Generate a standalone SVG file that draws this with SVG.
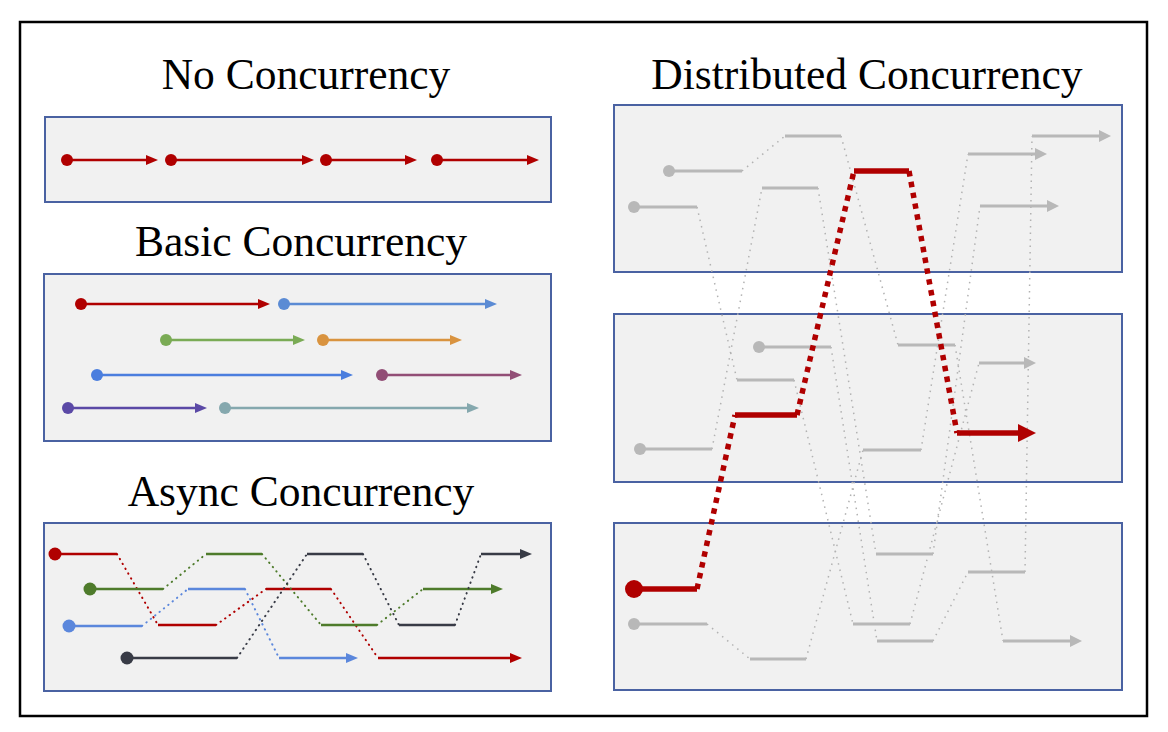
<svg xmlns="http://www.w3.org/2000/svg" width="1168" height="732" viewBox="0 0 1168 732">
<defs>
<style>
.title{font-family:"Liberation Serif","Times New Roman",serif;font-size:43.5px;fill:#000;text-anchor:middle}
.panel{fill:#f1f1f1;stroke:#4a62a2;stroke-width:2}
.ln{fill:none;stroke-width:2.6}
.dt{fill:none;stroke-width:2;stroke-dasharray:0.4 5.2;stroke-linecap:round}
.g{stroke:#b8b8b8;fill:none;stroke-width:3}
.gd{stroke:#b2b2b2;fill:none;stroke-width:1.5;stroke-dasharray:1.5 5}
.rd{stroke:#b00000;fill:none;stroke-width:5.5}
.rdd{stroke:#b00000;fill:none;stroke-width:5.5;stroke-dasharray:5.5 5.5}
</style>
<marker id="a-red" viewBox="0 0 12 10" refX="4" refY="5" markerWidth="12" markerHeight="10" markerUnits="userSpaceOnUse" orient="auto"><path d="M0,0L12,5L0,10z" fill="#b00000"/></marker>
<marker id="a-blue1" viewBox="0 0 12 10" refX="4" refY="5" markerWidth="12" markerHeight="10" markerUnits="userSpaceOnUse" orient="auto"><path d="M0,0L12,5L0,10z" fill="#5b8bd4"/></marker>
<marker id="a-green1" viewBox="0 0 12 10" refX="4" refY="5" markerWidth="12" markerHeight="10" markerUnits="userSpaceOnUse" orient="auto"><path d="M0,0L12,5L0,10z" fill="#7aab55"/></marker>
<marker id="a-orange" viewBox="0 0 12 10" refX="4" refY="5" markerWidth="12" markerHeight="10" markerUnits="userSpaceOnUse" orient="auto"><path d="M0,0L12,5L0,10z" fill="#d9933f"/></marker>
<marker id="a-blue2" viewBox="0 0 12 10" refX="4" refY="5" markerWidth="12" markerHeight="10" markerUnits="userSpaceOnUse" orient="auto"><path d="M0,0L12,5L0,10z" fill="#4b7ede"/></marker>
<marker id="a-maroon" viewBox="0 0 12 10" refX="4" refY="5" markerWidth="12" markerHeight="10" markerUnits="userSpaceOnUse" orient="auto"><path d="M0,0L12,5L0,10z" fill="#924e76"/></marker>
<marker id="a-purple" viewBox="0 0 12 10" refX="4" refY="5" markerWidth="12" markerHeight="10" markerUnits="userSpaceOnUse" orient="auto"><path d="M0,0L12,5L0,10z" fill="#5b49a6"/></marker>
<marker id="a-teal" viewBox="0 0 12 10" refX="4" refY="5" markerWidth="12" markerHeight="10" markerUnits="userSpaceOnUse" orient="auto"><path d="M0,0L12,5L0,10z" fill="#85a8ae"/></marker>
<marker id="a-green2" viewBox="0 0 12 10" refX="4" refY="5" markerWidth="12" markerHeight="10" markerUnits="userSpaceOnUse" orient="auto"><path d="M0,0L12,5L0,10z" fill="#4e7b2b"/></marker>
<marker id="a-blue3" viewBox="0 0 12 10" refX="4" refY="5" markerWidth="12" markerHeight="10" markerUnits="userSpaceOnUse" orient="auto"><path d="M0,0L12,5L0,10z" fill="#5b87dc"/></marker>
<marker id="a-dark" viewBox="0 0 12 10" refX="4" refY="5" markerWidth="12" markerHeight="10" markerUnits="userSpaceOnUse" orient="auto"><path d="M0,0L12,5L0,10z" fill="#383b46"/></marker>
<marker id="a-grey" viewBox="0 0 12 12" refX="4" refY="6" markerWidth="12" markerHeight="12" markerUnits="userSpaceOnUse" orient="auto"><path d="M0,0L12,6L0,12z" fill="#b8b8b8"/></marker>
<marker id="a-bigred" viewBox="0 0 18 18" refX="6" refY="9" markerWidth="18" markerHeight="18" markerUnits="userSpaceOnUse" orient="auto"><path d="M0,0L18,9L0,18z" fill="#b00000"/></marker>
</defs>
<rect width="1168" height="732" fill="#ffffff"/>
<rect id="frame" x="20" y="22" width="1127" height="694" fill="none" stroke="#000" stroke-width="2.5"/>

<g id="titles">
<text class="title" x="306" y="89">No Concurrency</text>
<text class="title" x="301" y="256">Basic Concurrency</text>
<text class="title" x="301" y="506">Async Concurrency</text>
<text class="title" x="867" y="89">Distributed Concurrency</text>
</g>

<g id="no-concurrency">
<rect class="panel" x="45" y="117" width="506" height="85"/>
<g stroke="#b00000" fill="#b00000">
<line class="ln" x1="67" y1="160" x2="150" y2="160" marker-end="url(#a-red)"/>
<line class="ln" x1="171" y1="160" x2="306" y2="160" marker-end="url(#a-red)"/>
<line class="ln" x1="326" y1="160" x2="409" y2="160" marker-end="url(#a-red)"/>
<line class="ln" x1="437" y1="160" x2="531" y2="160" marker-end="url(#a-red)"/>
<circle cx="67" cy="160" r="6" stroke="none"/>
<circle cx="171" cy="160" r="6" stroke="none"/>
<circle cx="326" cy="160" r="6" stroke="none"/>
<circle cx="437" cy="160" r="6" stroke="none"/>
</g>
</g>

<g id="basic-concurrency">
<rect class="panel" x="44" y="274" width="507" height="167"/>
<line class="ln" stroke="#b00000" x1="81" y1="304" x2="262" y2="304" marker-end="url(#a-red)"/><circle cx="81" cy="304" r="6" fill="#b00000"/>
<line class="ln" stroke="#5b8bd4" x1="284" y1="304" x2="489" y2="304" marker-end="url(#a-blue1)"/><circle cx="284" cy="304" r="6" fill="#5b8bd4"/>
<line class="ln" stroke="#7aab55" x1="166" y1="340" x2="297" y2="340" marker-end="url(#a-green1)"/><circle cx="166" cy="340" r="6" fill="#7aab55"/>
<line class="ln" stroke="#d9933f" x1="323" y1="340" x2="454" y2="340" marker-end="url(#a-orange)"/><circle cx="323" cy="340" r="6" fill="#d9933f"/>
<line class="ln" stroke="#4b7ede" x1="97" y1="375" x2="345" y2="375" marker-end="url(#a-blue2)"/><circle cx="97" cy="375" r="6" fill="#4b7ede"/>
<line class="ln" stroke="#924e76" x1="382" y1="375" x2="514" y2="375" marker-end="url(#a-maroon)"/><circle cx="382" cy="375" r="6" fill="#924e76"/>
<line class="ln" stroke="#5b49a6" x1="68" y1="408" x2="199" y2="408" marker-end="url(#a-purple)"/><circle cx="68" cy="408" r="6" fill="#5b49a6"/>
<line class="ln" stroke="#85a8ae" x1="225" y1="408" x2="471" y2="408" marker-end="url(#a-teal)"/><circle cx="225" cy="408" r="6" fill="#85a8ae"/>
</g>

<g id="async-concurrency">
<rect class="panel" x="44" y="523" width="507" height="168"/>
<g id="async-red" stroke="#b00000">
<line class="ln" x1="55" y1="554" x2="117" y2="554"/>
<line class="dt" x1="117" y1="554" x2="158" y2="625"/>
<line class="ln" x1="158" y1="625" x2="216" y2="625"/>
<line class="dt" x1="216" y1="625" x2="266" y2="589"/>
<line class="ln" x1="266" y1="589" x2="331" y2="589"/>
<line class="dt" x1="331" y1="589" x2="378" y2="658"/>
<line class="ln" x1="378" y1="658" x2="514" y2="658" marker-end="url(#a-red)"/>
<circle cx="55" cy="554" r="6.5" fill="#b00000" stroke="none"/>
</g>
<g id="async-green" stroke="#4e7b2b">
<line class="ln" x1="90" y1="589" x2="163" y2="589"/>
<line class="dt" x1="163" y1="589" x2="206" y2="554"/>
<line class="ln" x1="206" y1="554" x2="262" y2="554"/>
<line class="dt" x1="262" y1="554" x2="321" y2="625"/>
<line class="ln" x1="321" y1="625" x2="377" y2="625"/>
<line class="dt" x1="377" y1="625" x2="423" y2="589"/>
<line class="ln" x1="423" y1="589" x2="495" y2="589" marker-end="url(#a-green2)"/>
<circle cx="90" cy="589" r="6.5" fill="#4e7b2b" stroke="none"/>
</g>
<g id="async-blue" stroke="#5b87dc">
<line class="ln" x1="69" y1="626" x2="142" y2="626"/>
<line class="dt" x1="142" y1="626" x2="188" y2="589"/>
<line class="ln" x1="188" y1="589" x2="245" y2="589"/>
<line class="dt" x1="245" y1="589" x2="279" y2="658"/>
<line class="ln" x1="279" y1="658" x2="350" y2="658" marker-end="url(#a-blue3)"/>
<circle cx="69" cy="626" r="6.5" fill="#5b87dc" stroke="none"/>
</g>
<g id="async-dark" stroke="#383b46">
<line class="ln" x1="127" y1="658" x2="237" y2="658"/>
<line class="dt" x1="237" y1="658" x2="307" y2="554"/>
<line class="ln" x1="307" y1="554" x2="363" y2="554"/>
<line class="dt" x1="363" y1="554" x2="399" y2="625"/>
<line class="ln" x1="399" y1="625" x2="455" y2="625"/>
<line class="dt" x1="455" y1="625" x2="481" y2="554"/>
<line class="ln" x1="481" y1="554" x2="524" y2="554" marker-end="url(#a-dark)"/>
<circle cx="127" cy="658" r="6.5" fill="#383b46" stroke="none"/>
</g>
</g>

<g id="distributed-concurrency">
<g id="machine-1"><rect class="panel" x="614" y="105" width="508" height="167"/></g>
<g id="machine-2"><rect class="panel" x="614" y="314" width="508" height="168"/></g>
<g id="machine-3"><rect class="panel" x="614" y="523" width="508" height="167"/></g>
<g id="connectors">
<g id="dist-grey-dotted">
<line class="gd" x1="742" y1="171" x2="785" y2="136"/>
<line class="gd" x1="841" y1="136" x2="898" y2="345"/>
<line class="gd" x1="955" y1="345" x2="1003" y2="641"/>
<line class="gd" x1="697" y1="207" x2="737" y2="380"/>
<line class="gd" x1="794" y1="380" x2="853" y2="624"/>
<line class="gd" x1="910" y1="624" x2="979" y2="363"/>
<line class="gd" x1="831" y1="347" x2="877" y2="641"/>
<line class="gd" x1="933" y1="641" x2="968" y2="572"/>
<line class="gd" x1="1025" y1="572" x2="1032" y2="136"/>
<line class="gd" x1="712" y1="449" x2="762" y2="188"/>
<line class="gd" x1="818" y1="188" x2="876" y2="554"/>
<line class="gd" x1="933" y1="554" x2="980" y2="206"/>
<line class="gd" x1="707" y1="624" x2="750" y2="659"/>
<line class="gd" x1="806" y1="659" x2="863" y2="450"/>
<line class="gd" x1="921" y1="450" x2="968" y2="154"/>
</g>
<g id="dist-grey-solid">
<line class="g" x1="669" y1="171" x2="742" y2="171"/><circle cx="669" cy="171" r="6" fill="#b8b8b8"/>
<line class="g" x1="785" y1="136" x2="841" y2="136"/>
<line class="g" x1="898" y1="345" x2="955" y2="345"/>
<line class="g" x1="1003" y1="641" x2="1074" y2="641" marker-end="url(#a-grey)"/>
<line class="g" x1="634" y1="207" x2="697" y2="207"/><circle cx="634" cy="207" r="6" fill="#b8b8b8"/>
<line class="g" x1="737" y1="380" x2="794" y2="380"/>
<line class="g" x1="853" y1="624" x2="910" y2="624"/>
<line class="g" x1="979" y1="363" x2="1028" y2="363" marker-end="url(#a-grey)"/>
<line class="g" x1="759" y1="347" x2="831" y2="347"/><circle cx="759" cy="347" r="6" fill="#b8b8b8"/>
<line class="g" x1="877" y1="641" x2="933" y2="641"/>
<line class="g" x1="968" y1="572" x2="1025" y2="572"/>
<line class="g" x1="1032" y1="136" x2="1103" y2="136" marker-end="url(#a-grey)"/>
<line class="g" x1="640" y1="449" x2="712" y2="449"/><circle cx="640" cy="449" r="6" fill="#b8b8b8"/>
<line class="g" x1="762" y1="188" x2="818" y2="188"/>
<line class="g" x1="876" y1="554" x2="933" y2="554"/>
<line class="g" x1="980" y1="206" x2="1051" y2="206" marker-end="url(#a-grey)"/>
<line class="g" x1="634" y1="624" x2="707" y2="624"/><circle cx="634" cy="624" r="6" fill="#b8b8b8"/>
<line class="g" x1="750" y1="659" x2="806" y2="659"/>
<line class="g" x1="863" y1="450" x2="921" y2="450"/>
<line class="g" x1="968" y1="154" x2="1039" y2="154" marker-end="url(#a-grey)"/>
</g>
<g id="dist-red">
<line class="rd" x1="634" y1="589" x2="697" y2="589"/>
<line class="rdd" x1="697" y1="589" x2="735" y2="415"/>
<line class="rd" x1="735" y1="415" x2="797" y2="415"/>
<line class="rdd" x1="797" y1="415" x2="854" y2="171"/>
<line class="rd" x1="854" y1="171" x2="909" y2="171"/>
<line class="rdd" x1="909" y1="171" x2="957" y2="433"/>
<line class="rd" x1="957" y1="433" x2="1024" y2="433" marker-end="url(#a-bigred)"/>
<circle cx="634" cy="589" r="9" fill="#b00000"/>
</g>
</g>
</g>
</svg>
